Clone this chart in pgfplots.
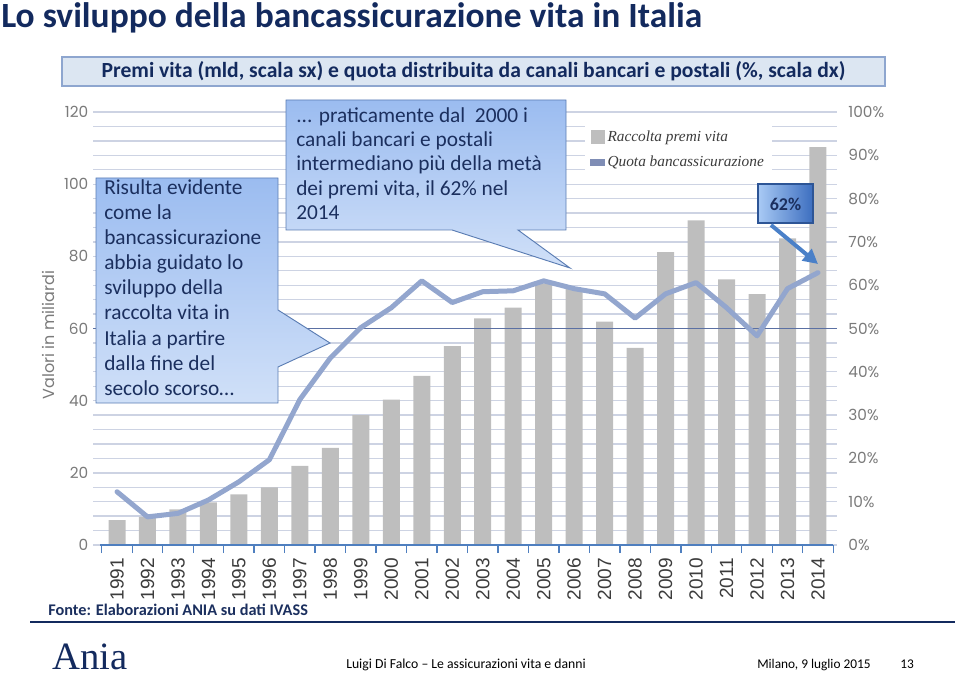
\documentclass[border=0pt]{standalone}
\usepackage{pgfplots}
\pgfplotsset{compat=1.18}
\usepackage{fontspec}
\setmainfont{Carlito}
\newfontfamily\gothic{Poppins}
\newfontfamily\arialf{Liberation Sans}
\newfontfamily\timesf{Liberation Serif}
\usetikzlibrary{arrows.meta}

\definecolor{navy}{HTML}{132A5E}
\definecolor{txtnavy}{HTML}{1B2F5E}
\definecolor{barc}{HTML}{BEBEBE}
\definecolor{linec}{HTML}{93A6CE}
\definecolor{legline}{HTML}{7F8DB5}
\definecolor{gridc}{HTML}{CDD3E3}
\definecolor{axisblue}{HTML}{4F7FBF}
\definecolor{line50}{HTML}{5B70A3}
\definecolor{ticklab}{HTML}{7A7A7A}
\definecolor{yearc}{HTML}{3C3C3C}
\definecolor{boxfill}{HTML}{DCE6F2}
\definecolor{boxborder}{HTML}{8EA6CF}
\definecolor{callA}{HTML}{9BBCF0}
\definecolor{callB}{HTML}{D0E0F8}
\definecolor{callborder}{HTML}{5B7DB3}
\definecolor{pctA}{HTML}{A9CAF5}
\definecolor{pctB}{HTML}{3C6EBF}
\definecolor{pctborder}{HTML}{2D5596}
\definecolor{arrowc}{HTML}{4A80C8}

\begin{document}
\begin{tikzpicture}[x=0.75pt,y=-0.75pt]
\path[use as bounding box] (0,0) rectangle (960,677);

% title
\node[anchor=base west, inner sep=0, font=\bfseries\fontsize{26.6}{27}\selectfont, text=navy] at (1,28) {Lo sviluppo della bancassicurazione vita in Italia};

% subtitle
\draw[draw=boxborder, fill=boxfill, line width=0.8pt] (62,57) rectangle (885,86);
\node[font=\bfseries\fontsize{16.2}{17}\selectfont, text=navy] at (473.5,71.5) {Premi vita (mld, scala sx) e quota distribuita da canali bancari e postali (\%, scala dx)};

\begin{scope}[x=1cm,y=1cm]
% left axis: bars
\begin{axis}[
  at={(69.75pt,-408.75pt)}, anchor=south west,
  width=558pt, height=324.75pt, scale only axis,
  xmin=1990.212, xmax=2014.624, ymin=0, ymax=120,
  axis line style={draw=none},
  clip=false,
  ytick={0,20,40,60,80,100,120},
  yticklabels={0,20,40,60,80,100,120},
  minor ytick={4,8,12,16,24,28,32,36,44,48,52,56,64,68,72,76,84,88,92,96,104,108,112,116},
  ymajorgrids, yminorgrids,
  major grid style={draw=gridc, line width=1pt},
  minor grid style={draw=gridc, line width=1pt},
  major tick length=0pt, minor tick length=0pt,
  xtick={1991,1992,1993,1994,1995,1996,1997,1998,1999,2000,2001,2002,2003,2004,2005,2006,2007,2008,2009,2010,2011,2012,2013,2014},
  xticklabels={1991,1992,1993,1994,1995,1996,1997,1998,1999,2000,2001,2002,2003,2004,2005,2006,2007,2008,2009,2010,2011,2012,2013,2014},
  xticklabel style={rotate=90, anchor=east, font=\arialf\fontsize{14.3}{14}\selectfont, text=yearc, inner sep=0pt},
  xticklabel shift=9.5pt,
  yticklabel style={font=\gothic\fontsize{11.5}{12}\selectfont, text=ticklab},
  extra x ticks={1990.5,1991.5,1992.5,1993.5,1994.5,1995.5,1996.5,1997.5,1998.5,1999.5,2000.5,2001.5,2002.5,2003.5,2004.5,2005.5,2006.5,2007.5,2008.5,2009.5,2010.5,2011.5,2012.5,2013.5,2014.5},
  extra x tick labels={},
  extra x tick style={major tick length=6pt, tick align=outside, tick style={draw=axisblue, line width=1pt}},
  xtick pos=bottom, ytick pos=left,
  legend style={at={(0.661,0.972)}, anchor=north west, draw=none, fill=white,
    font=\timesf\itshape\fontsize{11.5}{12}\selectfont, text=yearc,
    row sep=5pt, inner xsep=4pt, inner ysep=3pt},
  legend cell align=left,
]
\addplot[ybar, bar width=12.75pt, fill=barc, draw=none,
  legend image code/.code={\fill[barc] (0pt,-5.25pt) rectangle (10.5pt,5.25pt);}]
coordinates {
(1991,6.9) (1992,7.8) (1993,9.9) (1994,11.8) (1995,14.0) (1996,16.0)
(1997,21.9) (1998,26.9) (1999,36.0) (2000,40.3) (2001,46.9) (2002,55.1)
(2003,62.8) (2004,65.8) (2005,72.5) (2006,71.2) (2007,61.9) (2008,54.6)
(2009,81.2) (2010,90.0) (2011,73.6) (2012,69.5) (2013,85.0) (2014,110.3)
};
\addlegendentry{Raccolta premi vita}
\addlegendimage{legend image code/.code={\fill[legline] (0pt,-2.2pt) rectangle (10.5pt,2.2pt);}}
\addlegendentry{Quota bancassicurazione}
\draw[line50, line width=1.3pt] (axis cs:1990.212,60) -- (axis cs:2014.624,60);
\draw[axisblue, line width=1.5pt] (axis cs:1990.45,0) -- (axis cs:2014.5,0);
\end{axis}

% right axis: line
\begin{axis}[
  at={(69.75pt,-408.75pt)}, anchor=south west,
  width=558pt, height=324.75pt, scale only axis,
  xmin=1990.212, xmax=2014.624, ymin=0, ymax=100,
  hide x axis,
  axis y line*=right,
  y axis line style={draw=none},
  major tick length=0pt,
  ytick={0,10,20,30,40,50,60,70,80,90,100},
  yticklabels={0\%,10\%,20\%,30\%,40\%,50\%,60\%,70\%,80\%,90\%,100\%},
  yticklabel style={font=\gothic\fontsize{11.5}{12}\selectfont, text=ticklab, xshift=5pt},
]
\addplot[color=linec, line width=3.75pt, line join=round, line cap=round]
coordinates {
(1991,12.3) (1992,6.5) (1993,7.3) (1994,10.4) (1995,14.6) (1996,19.7)
(1997,33.6) (1998,43.2) (1999,50.2) (2000,54.8) (2001,61.0) (2002,56.0)
(2003,58.5) (2004,58.7) (2005,61.0) (2006,59.2) (2007,58.0) (2008,52.4)
(2009,58.0) (2010,60.6) (2011,54.8) (2012,48.3) (2013,59.2) (2014,62.9)
};
\end{axis}
\end{scope}

% y label
\node[rotate=90, font=\gothic\fontsize{12}{12}\selectfont, text=ticklab] at (48,335) {Valori in miliardi};

% left callout
\path[draw=callborder, line width=0.7pt, top color=callA, bottom color=callB]
 (96,178) -- (278,178) -- (278,310) -- (330,343) -- (278,367) -- (278,403) -- (96,403) -- cycle;
\begin{scope}[every node/.style={anchor=base west, inner sep=0, font=\fontsize{16}{18}\selectfont, text=txtnavy}]
\node at (104,195) {Risulta evidente};
\node at (104,220) {come la};
\node at (104,245) {bancassicurazione};
\node at (104,270) {abbia guidato lo};
\node at (104,295) {sviluppo della};
\node at (104,320) {raccolta vita in};
\node at (104,345) {Italia a partire};
\node at (104,370) {dalla fine del};
\node at (104,395) {secolo scorso\ldots};
\end{scope}

% top callout
\path[draw=callborder, line width=0.7pt, top color=callA, bottom color=callB]
 (286,100) -- (566,100) -- (566,230) -- (518,230) -- (570,268) -- (452,230) -- (286,230) -- cycle;
\begin{scope}[every node/.style={anchor=base west, inner sep=0, font=\fontsize{16}{18}\selectfont, text=txtnavy}]
\node at (296,122.5) {... praticamente dal\ \ 2000 i};
\node at (296,146.75) {canali bancari e postali};
\node at (296,171) {intermediano più della metà};
\node at (296,195.25) {dei premi vita, il 62\% nel};
\node at (296,219.5) {2014};
\end{scope}

% 62% callout
\path[draw=pctborder, line width=0.8pt, left color=pctA, right color=pctB] (758,184) rectangle (813,223);
\node[font=\bfseries\fontsize{13.5}{14}\selectfont, text=txtnavy] at (785.5,204) {62\%};
\draw[arrowc, line width=3pt, -{Triangle[length=11pt,width=11pt]}] (771,225) -- (818,264);

% footer
\node[anchor=base west, inner sep=0, font=\bfseries\fontsize{12.2}{13}\selectfont, text=txtnavy] at (48,615) {Fonte: Elaborazioni ANIA su dati IVASS};
\draw[navy, line width=1.5pt] (30,622) -- (955,622);
\node[anchor=base west, inner sep=0, font=\timesf\fontsize{29}{30}\selectfont, text=navy] at (52,669) {Ania};
\node[anchor=base west, inner sep=0, font=\fontsize{10.3}{11}\selectfont, text=black] at (346,668) {Luigi Di Falco -- Le assicurazioni vita e danni};
\node[anchor=base west, inner sep=0, font=\fontsize{10}{11}\selectfont, text=black] at (757,668) {Milano, 9 luglio 2015};
\node[anchor=base west, inner sep=0, font=\fontsize{10}{11}\selectfont, text=black] at (900,668) {13};
\end{tikzpicture}
\end{document}
